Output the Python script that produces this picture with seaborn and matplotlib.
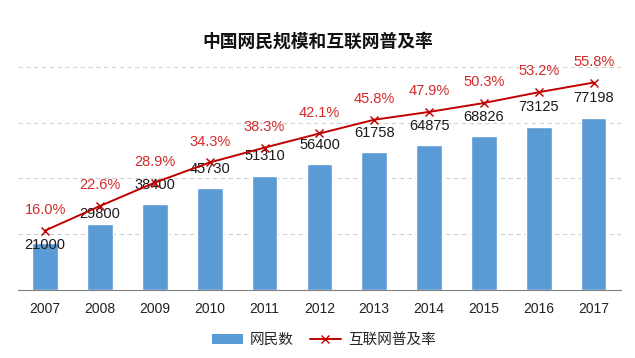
import numpy as np
import matplotlib.pyplot as plt
import seaborn as sns
from matplotlib.patches import Patch
from matplotlib.lines import Line2D

# Data
years = ['2007', '2008', '2009', '2010', '2011', '2012', '2013', '2014', '2015', '2016', '2017']
netizens = [21000, 29800, 38400, 45730, 51310, 56400, 61758, 64875, 68826, 73125, 77198]
penetration = [16.0, 22.6, 28.9, 34.3, 38.3, 42.1, 45.8, 47.9, 50.3, 53.2, 55.8]

bar_color = '#5B9BD5'
line_color = '#C00000'
label_red = '#D42A2A'

sns.set_style('white')
plt.rcParams['font.family'] = ['Liberation Sans', 'Noto Sans CJK SC', 'DejaVu Sans']

fig = plt.figure(figsize=(6.35, 3.58), dpi=100)
ax = fig.add_axes([0.028, 0.19, 0.95, 0.623])

sns.barplot(x=years, y=netizens, color=bar_color, width=0.47, saturation=1,
            ax=ax, zorder=2)
ax.set_ylim(0, 100000)
ax.set_yticks([0, 25000, 50000, 75000, 100000])
ax.yaxis.grid(True, linestyle=(0, (4, 3)), color='#D0D0D0', linewidth=0.8)
ax.set_axisbelow(True)
ax.set_yticklabels([])
ax.tick_params(axis='y', length=0)
for s in ['left', 'right', 'top']:
    ax.spines[s].set_visible(False)
ax.spines['bottom'].set_color('#808080')
ax.set_xlim(-0.5, len(years) - 0.5)
ax.set_xticks(np.arange(-0.5, len(years), 1), minor=True)
ax.tick_params(axis='x', which='major', length=0, pad=9, labelsize=10, labelcolor='#222222')
ax.tick_params(axis='x', which='minor', direction='in', length=5, color='#808080')
ax.set_xlabel('')
ax.set_ylabel('')

# bar value labels (first two sit lower to dodge the line)
label_offsets = {0: -1, 1: 7}
for i, v in enumerate(netizens):
    ax.annotate(str(v), (i, v), xytext=(0, label_offsets.get(i, 14)), textcoords='offset points',
                ha='center', va='center', fontsize=10.5, color='#1a1a1a', zorder=5)

ax2 = ax.twinx()
sns.pointplot(x=years, y=penetration, color=line_color, markers='x', linestyles='-',
              markersize=6, linewidth=1.4, ax=ax2, zorder=4)
ax2.set_ylim(0, 60)
ax2.set_xlim(-0.5, len(years) - 0.5)
ax2.axis('off')
for i, v in enumerate(penetration):
    ax2.annotate(f'{v:.1f}%', (i, v), xytext=(0, 15), textcoords='offset points',
                 ha='center', va='center', fontsize=10.5, color=label_red)

fig.suptitle('中国网民规模和互联网普及率', y=0.908, fontsize=12.8, fontweight='bold',
             family=['Noto Sans CJK SC'], color='#111111')

handles = [Patch(facecolor=bar_color, edgecolor='none'),
           Line2D([0], [0], color=line_color, marker='x', linewidth=1.4, markersize=6)]
fig.legend(handles, ['网民数', '互联网普及率'], loc='center', bbox_to_anchor=(0.51, 0.05),
           ncol=2, frameon=False, handlelength=2.1, handletextpad=0.5, columnspacing=1.1,
           prop={'family': ['Noto Sans CJK SC'], 'size': 10.5})

fig.savefig('out.png', dpi=100)
